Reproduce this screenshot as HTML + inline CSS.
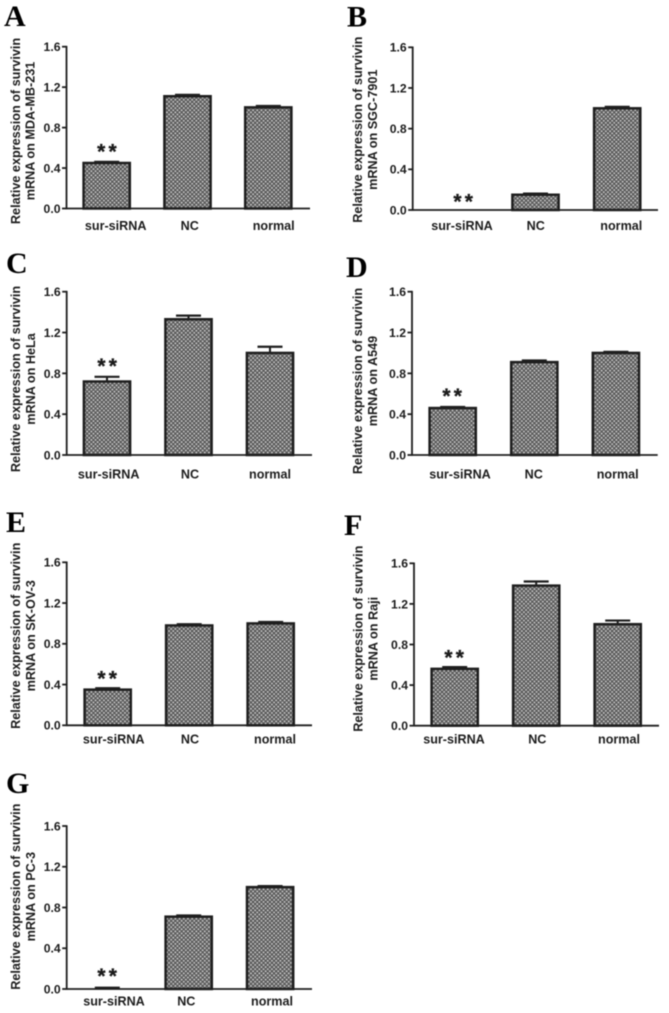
<!DOCTYPE html>
<html lang="en">
<head>
<meta charset="utf-8">
<title>Relative expression of survivin mRNA</title>
<style>
html,body{margin:0;padding:0;background:#fff;}
body{width:669px;height:1013px;overflow:hidden;}
svg{display:block;filter:blur(0.45px);}
text{font-family:"Liberation Sans",sans-serif;font-weight:bold;fill:#1c1c1c;}
.letter{font-family:"Liberation Serif",serif;font-size:30px;fill:#000;}
</style>
</head>
<body>
<svg id="figure" xmlns="http://www.w3.org/2000/svg" width="669" height="1013" viewBox="0 0 669 1013">
<defs>
<pattern id="dots" patternUnits="userSpaceOnUse" width="4.2" height="4.2">
<rect width="4.2" height="4.2" fill="#5a5a5a"/>
<rect x="0.25" y="0.25" width="1.6" height="1.6" fill="#d2d2d2"/>
<rect x="2.35" y="2.35" width="1.6" height="1.6" fill="#d2d2d2"/>
</pattern>
</defs>
</svg>
<script>
var categories = ['sur-siRNA', 'NC', 'normal'];
var yTicks = [0, 0.4, 0.8, 1.2, 1.6];
var panelLetters = ['A', 'B', 'C', 'D', 'E', 'F', 'G'];
var cellLines = ['MDA-MB-231', 'SGC-7901', 'HeLa', 'A549', 'SK-OV-3', 'Raji', 'PC-3'];
var valuesA = [0.45, 1.11, 1.0];
var valuesB = [0, 0.15, 1.0];
var valuesC = [0.72, 1.33, 1.0];
var valuesD = [0.46, 0.91, 1.0];
var valuesE = [0.35, 0.98, 1.0];
var valuesF = [0.56, 1.38, 1.0];
var valuesG = [0.005, 0.71, 1.0];
var errorsA = [0.005, 0.008, 0.008];
var errorsB = [0, 0.005, 0.008];
var errorsC = [0.04, 0.03, 0.055];
var errorsD = [0.005, 0.01, 0.005];
var errorsE = [0.008, 0.006, 0.008];
var errorsF = [0.012, 0.035, 0.03];
var errorsG = [0.002, 0.006, 0.004];
var allValues = [valuesA, valuesB, valuesC, valuesD, valuesE, valuesF, valuesG];
var allErrors = [errorsA, errorsB, errorsC, errorsD, errorsE, errorsF, errorsG];

/* Page geometry of each panel (separate from the data). */
var layouts = [
  {ax:66.5, y0:208.5, yTop:46.7, xEnd:310, c0:106.7, step:80.8, lx:[115.7,189.7,273.7], ly:225.7, sx:107, starLift:13.5, t1:15.6, t2:30, tc:131, lex:4, ley:26},
  {ax:412.7, y0:210, yTop:47.3, xEnd:658, c0:453.8, step:81.7, lx:[462,535.7,621.3], ly:225.7, sx:463.3, starLift:11, t1:357.3, t2:372.3, tc:129.7, lex:347, ley:26.7},
  {ax:66.7, y0:455, yTop:291.7, xEnd:312, c0:107, step:81.5, lx:[108.7,190,270], ly:474.3, sx:107.3, starLift:14, t1:15.7, t2:30.7, tc:379, lex:6, ley:273},
  {ax:412, y0:455, yTop:291.7, xEnd:657.7, c0:452.7, step:81.6, lx:[460,533.7,617.7], ly:474.3, sx:452.3, starLift:14, t1:357.3, t2:372.3, tc:381, lex:346, ley:277},
  {ax:66.7, y0:725.3, yTop:562.3, xEnd:312, c0:107.7, step:81.5, lx:[113.7,190,275], ly:739, sx:107.3, starLift:13, t1:15.7, t2:30.7, tc:635.8, lex:6, ley:532},
  {ax:414, y0:725.7, yTop:563.3, xEnd:659, c0:454.7, step:81.5, lx:[454,537.3,619], ly:739, sx:454.3, starLift:12.5, t1:358, t2:373, tc:638.7, lex:344, ley:535},
  {ax:66.7, y0:989, yTop:826, xEnd:312, c0:107.3, step:81.4, lx:[114,186.3,272], ly:1001, sx:107.3, starLift:15, t1:15.7, t2:30.7, tc:896.7, lex:6, ley:793}
];

var svgNS = 'http://www.w3.org/2000/svg';
var root = document.getElementById('figure');
var INK = '#1e1e1e';
var BAR_WIDTH = 46.2;
var BAR_STROKE = 2.5;
var CAP_WIDTH = 25;

function make(tag, attrs, parent) {
  var node = document.createElementNS(svgNS, tag);
  for (var k in attrs) { node.setAttribute(k, attrs[k]); }
  parent.appendChild(node);
  return node;
}
function yScale(L, v) {
  return L.y0 - (v / 1.6) * (L.y0 - L.yTop);
}
function xCenter(L, i) {
  return L.c0 + i * L.step;
}

panelLetters.forEach(function (letter, p) {
  var L = layouts[p];
  var values = allValues[p];
  var errors = allErrors[p];

  var g = make('g', {}, root);
  
  

  var lab = make('text', {x: L.lex, y: L.ley, 'class': 'letter'}, g);
  lab.textContent = letter;
  
  

  /* bars and error bars */
  values.forEach(function (v, i) {
    var cx = xCenter(L, i);
    var yv = yScale(L, v);
    var e = errors[i];
    if (v <= 0) { return; }
    var ye = yScale(L, v + e) - 0.6;

    var stem = make('line', {x1: cx, x2: cx, y1: yv, y2: ye, stroke: INK, 'stroke-width': 2}, g);
    
    

    var cap = make('line', {x1: cx - CAP_WIDTH / 2, x2: cx + CAP_WIDTH / 2, y1: ye, y2: ye, stroke: INK, 'stroke-width': 2.2}, g);
    
    

    if (L.y0 - yv > 2) {
      var bar = make('rect', {x: cx - BAR_WIDTH / 2, y: yv, width: BAR_WIDTH, height: L.y0 - yv, fill: 'url(#dots)', stroke: INK, 'stroke-width': BAR_STROKE}, g);
      
      
    }
  });

  /* y axis */
  var yAxis = make('line', {x1: L.ax, x2: L.ax, y1: yScale(L, 1.6) - 0.8, y2: L.y0 + 0.8, stroke: INK, 'stroke-width': 1.8}, g);
  
  

  /* x axis */
  var xAxis = make('line', {x1: L.ax, x2: L.xEnd, y1: L.y0, y2: L.y0, stroke: INK, 'stroke-width': 1.8}, g);
  
  

  yTicks.forEach(function (t) {
    var y = yScale(L, t);
    var tick = make('line', {x1: L.ax - 4.5, x2: L.ax, y1: y, y2: y, stroke: INK, 'stroke-width': 1.8}, g);
    
    

    var tl = make('text', {x: L.ax - 6, y: y + 4.4, 'text-anchor': 'end', 'font-size': 12.2}, g);
    tl.textContent = t.toFixed(1);
    
    
  });

  categories.forEach(function (name, i) {
    var cl = make('text', {x: L.lx[i], y: L.ly + 4.4, 'text-anchor': 'middle', 'font-size': 12.6}, g);
    cl.textContent = name;
    
    
  });

  /* y-axis title, two lines */
  var t1 = make('text', {transform: 'translate(' + (L.t1 + 4.5) + ',' + L.tc + ') rotate(-90)', 'text-anchor': 'middle', 'font-size': 12.65}, g);
  t1.textContent = 'Relative expression of survivin';
  
  

  var t2 = make('text', {transform: 'translate(' + (L.t2 + 4.5) + ',' + L.tc + ') rotate(-90)', 'text-anchor': 'middle', 'font-size': 12.65}, g);
  t2.textContent = 'mRNA on ' + cellLines[p];
  
  

  /* significance marker floats above the first bar's error cap */
  var starCenter = yScale(L, values[0] + errors[0]) - L.starLift;
  var star = make('text', {x: L.sx + 1.5, y: starCenter + 9.5, 'text-anchor': 'middle', 'font-size': 21, 'letter-spacing': 3.2, stroke: '#111', 'stroke-width': 0.3, fill: '#111'}, g);
  star.textContent = '**';
  
  
});
</script>
</body>
</html>
